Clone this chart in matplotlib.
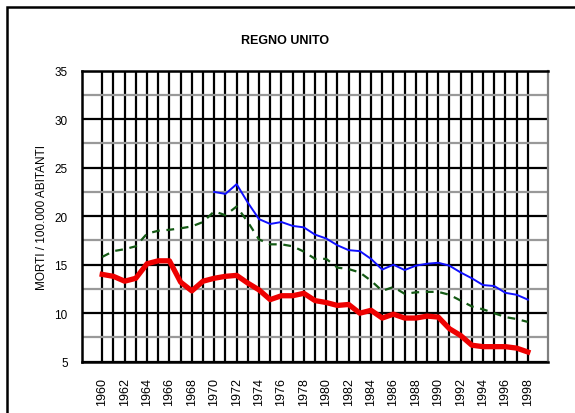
import matplotlib
matplotlib.use("Agg")
import matplotlib.pyplot as plt
from matplotlib.patches import Rectangle
from matplotlib.ticker import MultipleLocator

years = list(range(1960, 1999))
red_values = [14.0, 13.8, 13.3, 13.6, 15.1, 15.4, 15.4, 13.2, 12.3, 13.3,
              13.6, 13.8, 13.9, 13.1, 12.4, 11.4, 11.8, 11.8, 12.05, 11.3,
              11.1, 10.8, 10.9, 10.0, 10.3, 9.5, 9.9, 9.5, 9.5, 9.7,
              9.6, 8.4, 7.7, 6.7, 6.55, 6.55, 6.55, 6.4, 6.0]
green_values = [15.8, 16.4, 16.6, 16.9, 18.2, 18.5, 18.6, 18.75, 18.95, 19.4,
                20.5, 20.1, 21.0, 19.4, 17.6, 17.1, 17.1, 16.9, 16.35, 15.6,
                15.6, 14.7, 14.55, 14.2, 13.35, 12.3, 12.7, 12.0, 12.15, 12.2,
                12.2, 11.9, 11.3, 10.7, 10.4, 10.0, 9.6, 9.4, 9.1]
blue_years = list(range(1970, 1999))
blue_values = [22.5, 22.3, 23.3, 21.4, 19.7, 19.2, 19.4, 19.0, 18.85, 18.1,
               17.7, 17.0, 16.5, 16.4, 15.6, 14.5, 15.0, 14.45, 14.9, 15.1,
               15.2, 14.9, 14.2, 13.6, 12.9, 12.8, 12.1, 11.9, 11.4]
x_tick_labels = [str(y) for y in range(1960, 1999, 2)]
title = "REGNO UNITO"
ylabel = "MORTI / 100.000 ABITANTI"

plt.rcParams['font.family'] = ['Liberation Sans', 'DejaVu Sans']

fig = plt.figure(figsize=(5.75, 4.14), dpi=100)
ax = fig.add_axes([81.5/575, 1-362.7/414, (548-81.5)/575, (362.7-71.7)/414])

# outer frame
fig.patches.append(Rectangle((7/575, -0.2), 1.2, 1-8/414+0.2, transform=fig.transFigure,
                             fill=False, edgecolor='black', linewidth=1.8, zorder=0))

ax.set_xlim(1958.15, 1999.8)
ax.set_ylim(5, 35)
ax.yaxis.set_major_locator(MultipleLocator(5))
ax.yaxis.set_minor_locator(MultipleLocator(2.5))
ax.set_xticks(list(range(1960, 1999, 2)))
ax.set_xticklabels(x_tick_labels, rotation=90, fontsize=9)
ax.set_xticks(list(range(1961, 1999, 2)), minor=True)
ax.tick_params(axis='both', which='both', length=0)
ax.tick_params(axis='x', pad=11)
ax.tick_params(axis='y', pad=10, labelsize=8.5)

ax.grid(True, axis='y', which='minor', color='#999999', linewidth=1.6)
ax.grid(True, axis='y', which='major', color='black', linewidth=1.6)
ax.grid(True, axis='x', which='both', color='black', linewidth=1.6)
ax.set_axisbelow(True)

for s in ['left', 'top', 'bottom']:
    ax.spines[s].set_linewidth(1.8)
ax.spines['right'].set_color('#808080')
ax.spines['right'].set_linewidth(1.6)

ax.plot(years, green_values, color='#145a14', linewidth=1.6, linestyle=(0, (3.5, 3)))
ax.plot(blue_years, blue_values, color='#1010ff', linewidth=1.4)
ax.plot(years, red_values, color='#ee0000', linewidth=3.8, solid_joinstyle='round')

fig.text(285/575, 1-41/414, title, ha='center', va='center', fontsize=9,
         fontweight='bold', family=['Liberation Sans Narrow', 'Liberation Sans', 'DejaVu Sans'])
fig.text(41.7/575, 1-218/414, ylabel, ha='center', va='center', rotation=90, fontsize=8.5)

fig.savefig('out.png', dpi=100)
